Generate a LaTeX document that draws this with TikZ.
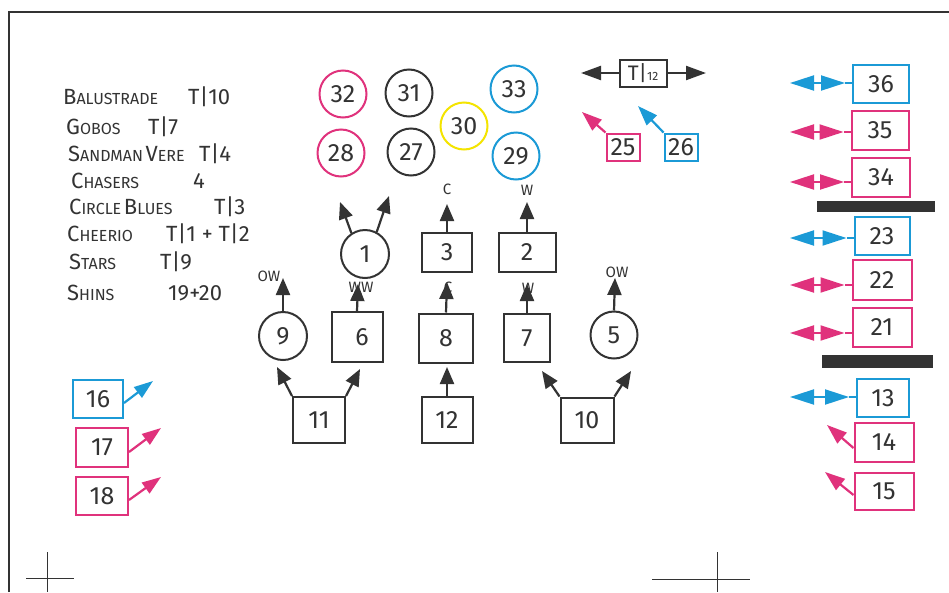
\documentclass[tikz,border=0pt]{standalone}
\usepackage{fontspec}
\setmainfont{Fira Sans}
\usetikzlibrary{arrows.meta,calc}
\definecolor{pk}{HTML}{E0327C}
\definecolor{bl}{HTML}{1B9AD6}
\definecolor{yl}{HTML}{F4E400}
\definecolor{ink}{HTML}{333333}
\newcommand\capw[2]{{\fontsize{22}{22}\selectfont #1}{\fontsize{16}{16}\selectfont #2}}
\begin{document}
\begin{tikzpicture}[x=1pt,y=-1pt,
  every node/.style={text=ink},
  num/.style={font=\fontsize{25}{25}\selectfont},
  bx/.style={draw=ink, line width=2pt, inner sep=0pt, num},
  cr/.style={circle, draw=ink, line width=2pt, minimum size=47pt, inner sep=0pt, num},
  ar/.style={draw=ink, line width=2.2pt, -{Triangle[length=17pt,width=14pt]}},
  dbl/.style={line width=2pt, {Triangle[length=24pt,width=15pt]}-{Triangle[length=24pt,width=15pt]}},
  lab/.style={font=\fontsize{15}{15}\selectfont, inner sep=0pt},
  txt/.style={anchor=west, inner sep=0pt},
  val/.style={anchor=west, inner sep=0pt, font=\fontsize{22}{22}\selectfont}
]
\path[use as bounding box, fill=white] (0,0) rectangle (949,592);
% frame and crop marks
\draw[ink, line width=2.4pt] (9,592) -- (9,12) -- (949,12);
\draw[ink, line width=0.9pt] (47,552) -- (47,592) (26,578) -- (74,578);
\draw[ink, line width=0.9pt] (717,552) -- (717,592) (652,579) -- (750,579);

% left text block
\node[txt] (l1) at (63,97) {\capw{B}{ALUSTRADE}};
\node[val] (v1) at (188,97) {T|10};
\node[txt] (l2) at (66,127) {\capw{G}{OBOS}};
\node[val] (v2) at (148,127) {T|7};
\node[txt] (l3) at (68,154) {\capw{S}{ANDMAN} \capw{V}{ERE}};
\node[val] (v3) at (199,154) {T|4};
\node[txt] (l4) at (71,181) {\capw{C}{HASERS}};
\node[val] (v4) at (193,181) {4};
\node[txt] (l5) at (69,207) {\capw{C}{IRCLE} \capw{B}{LUES}};
\node[val] (v5) at (214,207) {T|3};
\node[txt] (l6) at (67,234) {\capw{C}{HEERIO}};
\node[val] (v6) at (166,234) {T|1 + T|2};
\node[txt] (l7) at (69,262) {\capw{S}{TARS}};
\node[val] (v7) at (160,262) {T|9};
\node[txt] (l8) at (67,293) {\capw{S}{HINS}};
\node[val] (v8) at (168,293) {19+20};

% top circles
\node[cr, draw=pk] (c32) at (343,94) {32};
\node[cr] (c31) at (409,93) {31};
\node[cr, draw=yl] (c30) at (464,126) {30};
\node[cr, draw=bl] (c33) at (514,89) {33};
\node[cr, draw=pk] (c28) at (341,153) {28};
\node[cr] (c27) at (411,152) {27};
\node[cr, draw=bl] (c29) at (516,156) {29};

% T|12 group
\node[bx, minimum width=47pt, minimum height=27pt] (t12) at (643,73)
  {\fontsize{21}{21}\selectfont T|{\fontsize{12}{12}\selectfont 12}};
\coordinate (tl) at (581,73);
\coordinate (tr) at (706,73);
\draw[ar, -{Triangle[length=20pt,width=14pt]}] (t12.west) -- (tl);
\draw[ar, -{Triangle[length=20pt,width=14pt]}] (t12.east) -- (tr);
\node[bx, draw=pk, minimum width=33pt, minimum height=27pt] (b25) at (623,147) {25};
\node[bx, draw=bl, minimum width=33pt, minimum height=27pt] (b26) at (681,147) {26};
\coordinate (e25) at (582,112);
\coordinate (e26) at (638,106);
\draw[ar, draw=pk, -{Triangle[length=20pt,width=14pt]}] (b25.north west) -- (e25);
\draw[ar, draw=bl, -{Triangle[length=20pt,width=14pt]}] (b26.north west) -- (e26);

% right column
\node[bx, draw=bl, minimum width=56pt, minimum height=38pt] (b36) at (881,84) {36};
\node[bx, draw=pk, minimum width=57pt, minimum height=39pt] (b35) at (880,130) {35};
\node[bx, draw=pk, minimum width=58pt, minimum height=39pt] (b34) at (881,177) {34};
\fill[ink] (817,201) rectangle (935,212);
\node[bx, draw=bl, minimum width=55pt, minimum height=38pt] (b23) at (882,236) {23};
\node[bx, draw=pk, minimum width=59pt, minimum height=40pt] (b22) at (882,280) {22};
\node[bx, draw=pk, minimum width=59pt, minimum height=39pt] (b21) at (882,327) {21};
\fill[ink] (822,355) rectangle (933,368);
\node[bx, draw=bl, minimum width=52pt, minimum height=38pt] (b13) at (883,398) {13};
\node[bx, draw=pk, minimum width=59pt, minimum height=39pt] (b14) at (884,442) {14};
\node[bx, draw=pk, minimum width=59pt, minimum height=37pt] (b15) at (884,491) {15};

\foreach \b/\c/\y/\dy in {36/bl/83/1, 35/pk/132/-2, 34/pk/182/-5, 23/bl/238/-2, 22/pk/285/-5, 21/pk/333/-6, 13/bl/397/1} {
  \coordinate (e\b) at (790,\y);
  \draw[\c, line width=2pt] ([yshift=\dy pt]b\b.west) -- ++(-7,0) coordinate (m\b);
  \draw[dbl, \c] (e\b) -- (m\b);
}
\coordinate (e14) at (827,425);
\coordinate (e15) at (825,472);
\draw[ar, draw=pk, -{Triangle[length=20pt,width=14pt]}] ([yshift=-6pt]b14.west) -- (e14);
\draw[ar, draw=pk, -{Triangle[length=20pt,width=14pt]}] ([yshift=-4pt]b15.west) -- (e15);

% left column
\node[bx, draw=bl, minimum width=50pt, minimum height=38pt] (b16) at (98,399) {16};
\node[bx, draw=pk, minimum width=52pt, minimum height=39pt] (b17) at (102,447) {17};
\node[bx, draw=pk, minimum width=52pt, minimum height=38pt] (b18) at (102,496) {18};
\coordinate (e16) at (153,381);
\coordinate (e17) at (161,428);
\coordinate (e18) at (161,477);
\draw[ar, draw=bl, -{Triangle[length=19pt,width=13pt]}] ([yshift=-4pt]b16.east) -- (e16);
\draw[ar, draw=pk, -{Triangle[length=19pt,width=13pt]}] ([yshift=-5pt]b17.east) -- (e17);
\draw[ar, draw=pk, -{Triangle[length=19pt,width=13pt]}] ([yshift=-4pt]b18.east) -- (e18);

% central group
\node[cr, minimum size=48pt] (c1) at (365,254) {1};
\node[bx, minimum width=50pt, minimum height=39pt] (b3) at (447,252) {3};
\node[bx, minimum width=57pt, minimum height=39pt] (b2) at (527,252) {2};
\node[cr, minimum size=48pt] (c9) at (283,336) {9};
\node[bx, minimum width=51pt, minimum height=50pt] (b6) at (357,337) {\hspace*{10pt}6};
\node[bx, minimum width=54pt, minimum height=49pt] (b8) at (446,338) {8};
\node[bx, minimum width=46pt, minimum height=48pt] (b7) at (527,338) {7};
\node[cr, minimum size=47pt] (c5) at (614,335) {5};
\node[bx, minimum width=52pt, minimum height=46pt] (b11) at (319,420) {11};
\node[bx, minimum width=51pt, minimum height=46pt] (b12) at (447,420) {12};
\node[bx, minimum width=53pt, minimum height=45pt] (b10) at (587,420) {10};

\coordinate (a1l) at (340,202);
\coordinate (a1r) at (389,196);
\coordinate (a3) at (447,204);
\coordinate (a2) at (527,202);
\coordinate (a9) at (283,278);
\coordinate (a6) at (358,284);
\coordinate (a8) at (447,282);
\coordinate (a7) at (527,284);
\coordinate (a5) at (615,278);
\coordinate (a11l) at (277,367);
\coordinate (a11r) at (360,369);
\coordinate (a12) at (447,367);
\coordinate (a10l) at (542,371);
\coordinate (a10r) at (631,371);

\draw[ar] (c1.123) -- (a1l);
\draw[ar] (c1.62) -- (a1r);
\draw[ar] (b3.north) -- (a3);
\draw[ar] (b2.north) -- (a2);
\draw[ar] (c9.north) -- (a9);
\draw[ar] (b6.north) -- (a6);
\draw[ar] (b8.north) -- (a8);
\draw[ar] (b7.north) -- (a7);
\draw[ar] (c5.north) -- (a5);
\draw[ar] (b11.north west) -- (a11l);
\draw[ar] (b11.north east) -- (a11r);
\draw[ar] (b12.north) -- (a12);
\draw[ar] (b10.north west) -- (a10l);
\draw[ar] (b10.north east) -- (a10r);

% small labels
\node[lab] (lc3) at (447,189) {C};
\node[lab] (lw2) at (527,190) {W};
\node[lab] (low9) at (269,276) {OW};
\node[lab] (lww6) at (361,287) {WW};
\node[lab] (lc8) at (448,287) {C};
\node[lab] (lw7) at (528,288) {W};
\node[lab] (low5) at (617,272) {OW};
\end{tikzpicture}
\end{document}
